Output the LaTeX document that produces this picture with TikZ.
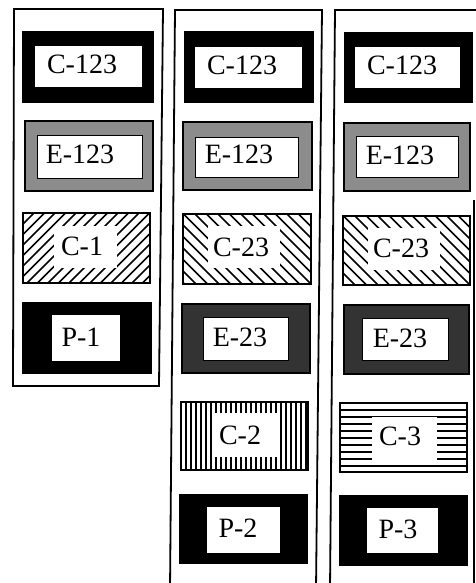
\documentclass[tikz,border=0pt]{standalone}
\usepackage{fontspec}
\setmainfont{Liberation Serif}
\tikzset{
  frameline/.style={line width=1.8pt,black},
  boxline/.style={line width=1.8pt,black},
  innerline/.style={line width=0.9pt,black},
  hatchline/.style={line width=1.7pt,black},
  stripeline/.style={line width=1.3pt,black},
  lbl/.style={inner sep=0pt,font=\fontsize{28}{32}\selectfont},
}
% band box: name, outer c1, outer c2, inner c1, inner c2, fill colour, text pos, text
\newcommand\BandBox[8]{%
  \fill[#6] #2 rectangle #3;
  \draw[boxline] #2 rectangle #3;
  \fill[white] #4 rectangle #5;
  \node[lbl] (#1) at #7 {#8};
}
\newcommand\EBox[8]{%
  \fill[#6] #2 rectangle #3;
  \draw[boxline] #2 rectangle #3;
  \fill[white] #4 rectangle #5;
  \draw[innerline] #4 rectangle #5;
  \node[lbl] (#1) at #7 {#8};
}
% hatched boxes: name, x1, y1, x2, y2, clear c1, clear c2, text pos, text
\newcommand\SlashBox[9]{%
  \begin{scope}
    \clip (#2,#3) rectangle (#4,#5);
    \foreach \i in {-80,-69.5,...,140} \draw[hatchline] ({#2+\i},#5) -- ++(80,-80);
  \end{scope}
  \fill[white] #6 rectangle #7;
  \draw[boxline] (#2,#3) rectangle (#4,#5);
  \node[lbl] (#1) at #8 {#9};
}
\newcommand\BackBox[9]{%
  \begin{scope}
    \clip (#2,#3) rectangle (#4,#5);
    \foreach \i in {-80,-68.5,...,140} \draw[hatchline] ({#2+\i},#3) -- ++(80,80);
  \end{scope}
  \fill[white] #6 rectangle #7;
  \draw[boxline] (#2,#3) rectangle (#4,#5);
  \node[lbl] (#1) at #8 {#9};
}
\newcommand\VertBox[9]{%
  \begin{scope}
    \clip (#2,#3) rectangle (#4,#5);
    \foreach \i in {5,10,...,130} \draw[stripeline] ({#2+\i},#3) -- ({#2+\i},#5);
  \end{scope}
  \fill[white] #6 rectangle #7;
  \draw[boxline] (#2,#3) rectangle (#4,#5);
  \node[lbl] (#1) at #8 {#9};
}
\newcommand\HorzBox[9]{%
  \begin{scope}
    \clip (#2,#3) rectangle (#4,#5);
    \foreach \i in {7,14,...,70} \draw[stripeline] (#2,{#3+\i}) -- (#4,{#3+\i});
  \end{scope}
  \fill[white] #6 rectangle #7;
  \draw[boxline] (#2,#3) rectangle (#4,#5);
  \node[lbl] (#1) at #8 {#9};
}
\begin{document}
\begin{tikzpicture}[x=1pt,y=-1pt]
\useasboundingbox[fill=white] (0,0) rectangle (475,583);

% column frames
\coordinate (f1a) at (14,9);
\coordinate (f1b) at (163,9);
\coordinate (f1c) at (159,386);
\coordinate (f1d) at (13,386);
\draw[frameline] (f1a) -- (f1b) -- (f1c) -- (f1d) -- cycle;

\coordinate (f2a) at (175,10);
\coordinate (f2b) at (322,10);
\coordinate (f2c) at (316,590);
\coordinate (f2d) at (170,590);
\draw[frameline] (f2d) -- (f2a) -- (f2b) -- (f2c);

\coordinate (f3a) at (335,10);
\coordinate (f3b) at (480,10);
\coordinate (f3c) at (474,200);
\coordinate (f3d) at (474,590);
\coordinate (f3e) at (330,590);
\draw[frameline] (f3e) -- (f3a) -- (f3b);
\draw[frameline] (f3c) -- (f3d);

% column 1
\BandBox{a1}{(23,32)}{(153,102)}{(35,46)}{(142,87)}{black}{(82,64)}{C-123}
\EBox{a2}{(25,121)}{(153,191)}{(37,135)}{(142,178)}{black!45}{(80,154)}{E-123}
\SlashBox{a3}{23}{213}{150}{283}{(54,226)}{(117,268)}{(82,246)}{C-1}
\BandBox{a4}{(23,303)}{(151,373)}{(52,315)}{(120,361)}{black}{(81,337)}{P-1}

% column 2
\BandBox{b1}{(185,32)}{(313,102)}{(195,47)}{(302,88)}{black}{(242,65)}{C-123}
\EBox{b2}{(183,122)}{(312,190)}{(195,137)}{(298,177)}{black!45}{(239,154)}{E-123}
\BackBox{b3}{183}{214}{311}{284}{(208,226)}{(280,268)}{(241,247)}{C-23}
\EBox{b4}{(182,304)}{(310,373)}{(203,317)}{(288,360)}{black!80}{(240,337)}{E-23}
\VertBox{b5}{181}{402}{308}{470}{(212,413)}{(280,457)}{(240,435)}{C-2}
\BandBox{b6}{(180,495)}{(307,563)}{(207,507)}{(280,553)}{black}{(238,528)}{P-2}

% column 3
\BandBox{c1}{(345,33)}{(472,102)}{(355,47)}{(460,88)}{black}{(402,65)}{C-123}
\EBox{c2}{(344,123)}{(470,191)}{(356,136)}{(458,177)}{black!45}{(400,155)}{E-123}
\BackBox{c3}{343}{216}{470}{285}{(368,228)}{(440,270)}{(401,248)}{C-23}
\EBox{c4}{(344,305)}{(469,374)}{(362,318)}{(448,360)}{black!80}{(400,338)}{E-23}
\HorzBox{c5}{340}{403}{467}{472}{(372,417)}{(437,460)}{(400,436)}{C-3}
\BandBox{c6}{(340,496)}{(467,565)}{(367,508)}{(438,553)}{black}{(398,529)}{P-3}
\end{tikzpicture}
\end{document}
